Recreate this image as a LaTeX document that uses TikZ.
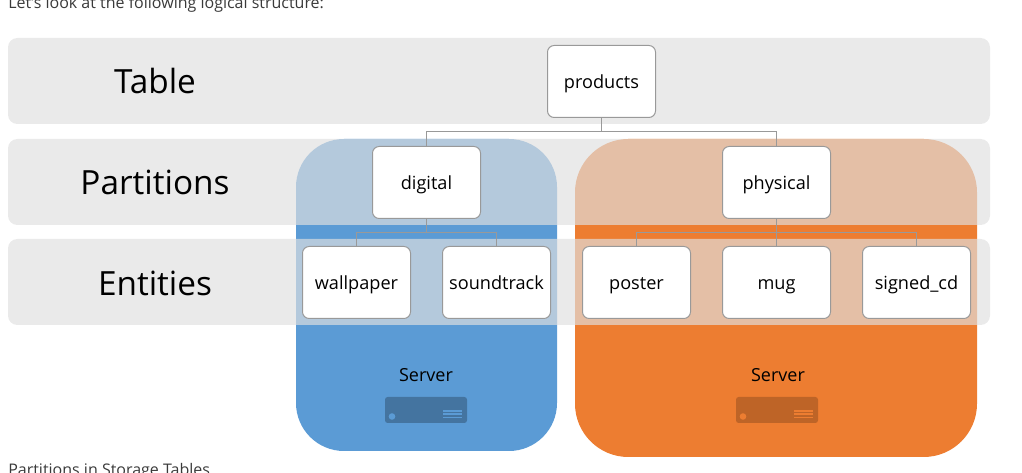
\documentclass[tikz,border=0pt]{standalone}
\usepackage{fontspec}
\setmainfont{Open Sans}
\definecolor{bandgray}{HTML}{E0E0E0}
\definecolor{boxline}{HTML}{999999}
\definecolor{serverblue}{HTML}{5B9BD5}
\definecolor{serverorange}{HTML}{ED7D31}
\definecolor{pagetext}{HTML}{3A3A3A}

\begin{document}
\begin{tikzpicture}[x=0.75pt,y=-0.75pt]
	\tikzstyle{band}=[draw=none,fill=bandgray,fill opacity=0.67,rounded corners=7pt]
	\tikzstyle{blob}=[draw=none,rounded corners=36pt]
	\tikzstyle{entity}=[rectangle,draw=boxline,fill=white,rounded corners=5pt,line width=0.75pt,minimum width=81pt,minimum height=54pt,inner sep=0pt,text height=12pt,text depth=2.2pt,font=\fontsize{13.6}{15}\selectfont,text=black]
	\tikzstyle{heading}=[font=\fontsize{25}{30}\selectfont,text=black]
	\tikzstyle{servername}=[font=\fontsize{13.5}{15}\selectfont,text=black]
	\tikzstyle{pagenote}=[anchor=base west,inner sep=0pt,font=\fontsize{12}{14}\selectfont,text=pagetext]
	\tikzstyle{link}=[draw=boxline,line width=0.75pt]
	\useasboundingbox (0,0) rectangle (1022,473);
	% page text
	\node[pagenote] (intro) at (8,9) {Let's look at the following logical structure:};
	\node[pagenote] (outro) at (8,476) {Partitions in Storage Tables};
	% servers
	\fill[blob,serverblue] (296,139) rectangle (557,451);
	\fill[blob,serverorange,rounded corners=40pt] (575,139) rectangle (977,457);
	\node[servername] (serverA) at (426,375) {Server};
	\node[servername] (serverB) at (778,375) {Server};
	\fill[serverblue!75!black,rounded corners=2pt] (385,397) rectangle (467,423);
	\fill[serverorange!80!black,rounded corners=2pt] (736,397) rectangle (818,423);
	\fill[serverblue] (392,416.5) circle (3.3);
	\fill[serverorange] (743,416.5) circle (3.3);
	\foreach \ya/\yb in {410/411.7,413.5/415,416.7/418.3}{
		\fill[serverblue] (443,\ya) rectangle (462,\yb);
		\fill[serverorange] (794,\ya) rectangle (813,\yb);
	}
	% bands
	\path[band] (8,38) rectangle (990,124);
	\path[band] (8,139) rectangle (990,225);
	\path[band] (8,239) rectangle (990,325);
	\node[heading] (table) at (155,81.5) {Table};
	\node[heading] (partitions) at (155,182.5) {Partitions};
	\node[heading] (entities) at (155,283) {Entities};
	% boxes
	\node[entity] (products) at (601.5,81.5) {products};
	\node[entity] (digital) at (426.5,182.5) {digital};
	\node[entity] (physical) at (776.5,182.5) {physical};
	\node[entity] (wallpaper) at (356.5,282.5) {wallpaper};
	\node[entity] (soundtrack) at (496.5,282.5) {soundtrack};
	\node[entity] (poster) at (636.5,282.5) {poster};
	\node[entity] (mug) at (776.5,282.5) {mug};
	\node[entity] (signed) at (916.5,282.5) {signed\_cd};
	% connectors
	\coordinate (busA) at (601.5,132);
	\coordinate (busB) at (426.5,232.5);
	\coordinate (busC) at (776.5,232.5);
	\draw[link] (products.south) -- (busA) -| (digital.north);
	\draw[link] (busA) -| (physical.north);
	\draw[link] (digital.south) -- (busB) -| (wallpaper.north);
	\draw[link] (busB) -| (soundtrack.north);
	\draw[link] (physical.south) -- (mug.north);
	\draw[link] (busC) -| (poster.north);
	\draw[link] (busC) -| (signed.north);
\end{tikzpicture}
\end{document}
